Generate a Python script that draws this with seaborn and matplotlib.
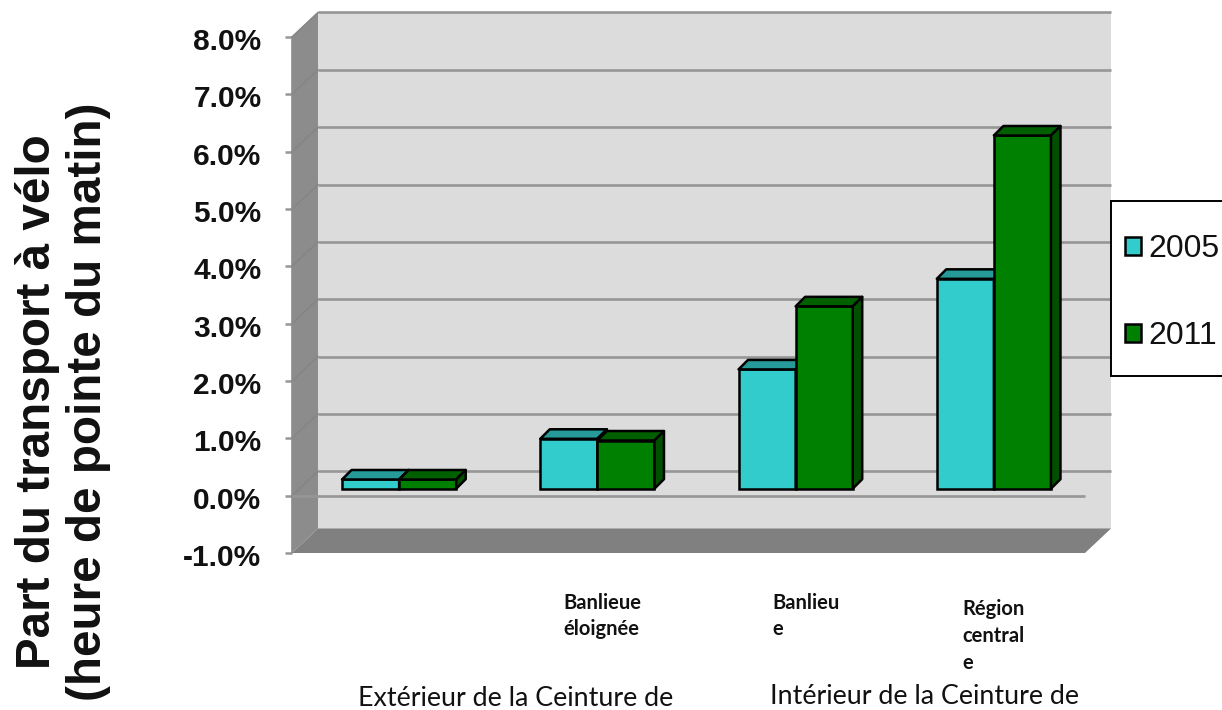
import matplotlib
matplotlib.use("Agg")
import matplotlib.pyplot as plt
from matplotlib.patches import Polygon, Rectangle
from matplotlib.transforms import ScaledTranslation
import pandas as pd
import seaborn as sns

# Cycling share by ring of the city, morning peak
zones = ["Extérieur", "Banlieue éloignée", "Banlieue", "Région centrale"]
share_2005 = [0.16, 0.87, 2.08, 3.66]
share_2011 = [0.16, 0.84, 3.18, 6.16]
years = ["2005", "2011"]
y_ticks = [-1, 0, 1, 2, 3, 4, 5, 6, 7, 8]
y_tick_labels = ["-1.0%", "0.0%", "1.0%", "2.0%", "3.0%", "4.0%", "5.0%", "6.0%", "7.0%", "8.0%"]

FRONT_COLORS = {"2005": "#33CCCC", "2011": "#008000"}
TOP_COLORS = {"2005": "#269999", "2011": "#006000"}
SIDE_COLORS = {"2005": "#1F8080", "2011": "#005000"}
GRID = "#969696"

W, H = 1222, 710
sns.set_theme(style="white")
plt.rcParams["font.family"] = ["Liberation Sans", "DejaVu Sans"]

fig = plt.figure(figsize=(W / 100, H / 100), dpi=100, facecolor="white")


def box(x0, y_top, x1, y_bottom):
    """Axes rectangle from pixel edges measured from the top-left corner."""
    return [x0 / W, 1 - y_bottom / H, (x1 - x0) / W, (y_bottom - y_top) / H]


# Front plane carries the value scale, the walls and the floor
ax = fig.add_axes(box(292, 37, 1085, 553))
ax.set_xlim(-0.5, 3.5)
ax.set_ylim(-1, 8)
ax.patch.set_visible(False)
sns.despine(ax=ax, left=True, bottom=True)
ax.set_xticks([])
ax.set_yticks(y_ticks, y_tick_labels, fontsize=21.5, fontweight="bold", color="#111111")
ax.tick_params(axis="y", left=True, length=5, width=1.8, color=GRID, pad=17)
ax.grid(False)
for label in ax.get_yticklabels():
    label.set_transform(label.get_transform() + ScaledTranslation(0, -2 / 100, fig.dpi_scale_trans))

px_x = 4 / 793   # one pixel in category units
px_y = 9 / 516   # one pixel in value units
wall_dx, wall_dy = 26 * px_x, 24.5 * px_y
x0, x1, y0, y1 = -0.5, 3.5, -1, 8

walls = [
    ([(x0 + wall_dx, y0 + wall_dy), (x1 + wall_dx, y0 + wall_dy),
      (x1 + wall_dx, y1 + wall_dy), (x0 + wall_dx, y1 + wall_dy)], "#DCDCDC"),
    ([(x0, y0), (x0 + wall_dx, y0 + wall_dy),
      (x0 + wall_dx, y1 + wall_dy), (x0, y1)], "#8C8C8C"),
    ([(x0, y0), (x1, y0), (x1 + wall_dx, y0 + wall_dy),
      (x0 + wall_dx, y0 + wall_dy)], "#808080"),
]
for corners, colour in walls:
    ax.add_patch(Polygon(corners, closed=True, facecolor=colour, edgecolor="none",
                         clip_on=False, zorder=1))

for tick in y_ticks[1:]:
    ax.plot([x0 + wall_dx, x1 + wall_dx], [tick + wall_dy] * 2, color=GRID, lw=1.9,
            clip_on=False, zorder=2, solid_capstyle="butt")
    ax.plot([x0, x0 + wall_dx], [tick, tick + wall_dy], color="#858585", lw=1.2,
            clip_on=False, zorder=2)
ax.plot([x0, x1], [0, 0], color=GRID, lw=1.9, clip_on=False, zorder=2,
        solid_capstyle="butt")
ax.plot([x0, x0], [y0, y1], color="#8C8C8C", lw=1.2, clip_on=False, zorder=2)

# Bars stand part-way into the depth of the chart, so their plane sits up and to the right
bars_ax = fig.add_axes(box(292 + 8, 37 - 7, 1085 + 8, 553 - 7), sharex=None)
bars_ax.patch.set_visible(False)
bars_ax.set_zorder(ax.get_zorder() + 1)

table = pd.DataFrame({
    "zone": zones * 2,
    "year": [years[0]] * len(zones) + [years[1]] * len(zones),
    "share": share_2005 + share_2011,
})
sns.barplot(data=table, x="zone", y="share", hue="year", order=zones, hue_order=years,
            palette=FRONT_COLORS, saturation=1, width=0.576, gap=0, errorbar=None,
            edgecolor="black", linewidth=1.8, ax=bars_ax)
bars_ax.set_xlim(-0.5, 3.5)
bars_ax.set_ylim(-1, 8)
bars_ax.set_axis_off()

bar_dx, bar_dy = 9.5 * px_x, 9.5 * px_y
for level, (year, container) in enumerate(zip(years, bars_ax.containers)):
    for bar in container:
        bar.set_zorder(3 + level)
        left, right = bar.get_x(), bar.get_x() + bar.get_width()
        low, high = bar.get_y(), bar.get_y() + bar.get_height()
        bars_ax.add_patch(Polygon(
            [(left, high), (right, high), (right + bar_dx, high + bar_dy),
             (left + bar_dx, high + bar_dy)],
            closed=True, facecolor=TOP_COLORS[year], edgecolor="black", lw=1.8,
            clip_on=False, zorder=3 + level, joinstyle="round"))
        bars_ax.add_patch(Polygon(
            [(right, low), (right + bar_dx, low + bar_dy),
             (right + bar_dx, high + bar_dy), (right, high)],
            closed=True, facecolor=SIDE_COLORS[year], edgecolor="black", lw=1.8,
            clip_on=False, zorder=3 + level, joinstyle="round"))

# Legend box runs off the right edge
fig.add_artist(Rectangle((1111 / W, 1 - 376 / H), 130 / W, 175 / H,
                         transform=fig.transFigure, facecolor="white",
                         edgecolor="black", lw=1.4, zorder=0.5))
sns.move_legend(bars_ax, loc="upper left", bbox_to_anchor=(1125 / W, 1 - 234 / H),
                bbox_transform=fig.transFigure, title=None, frameon=False,
                fontsize=23, handlelength=0.5, handleheight=0.5, handletextpad=0.22,
                labelspacing=1.8, borderpad=0, borderaxespad=0)
legend = bars_ax.get_legend()
legend.set_zorder(6)
for text in legend.get_texts():
    text.set_color("#111111")

# Hand-placed category captions and ring labels
def caption(x, y, lines, size, weight, gap=1.0):
    fig.text(x / W, 1 - y / H, lines, fontsize=size, fontweight=weight, family="Lato",
             color="#111111", ha="left", va="center", linespacing=gap)


caption(563, 616, "Banlieue\néloignée", 14.5, "bold", 1.42)
caption(772, 616, "Banlieu\ne", 14.5, "bold", 1.42)
caption(962, 636, "Région\ncentral\ne", 14.5, "bold", 1.41)
caption(358, 699, "Extérieur de la Ceinture de", 19.3, "normal")
caption(770, 696, "Intérieur de la Ceinture de", 19.3, "normal")

ax.set_ylabel("Part du transport à vélo\n(heure de pointe du matin)", fontsize=34.3,
              fontweight="bold", color="#111111", linespacing=1.17, va="center")
ax.yaxis.set_label_coords((63 - 292) / 793, (553 - 401.5) / 516)

fig.savefig("out.png", dpi=100, facecolor="white")
